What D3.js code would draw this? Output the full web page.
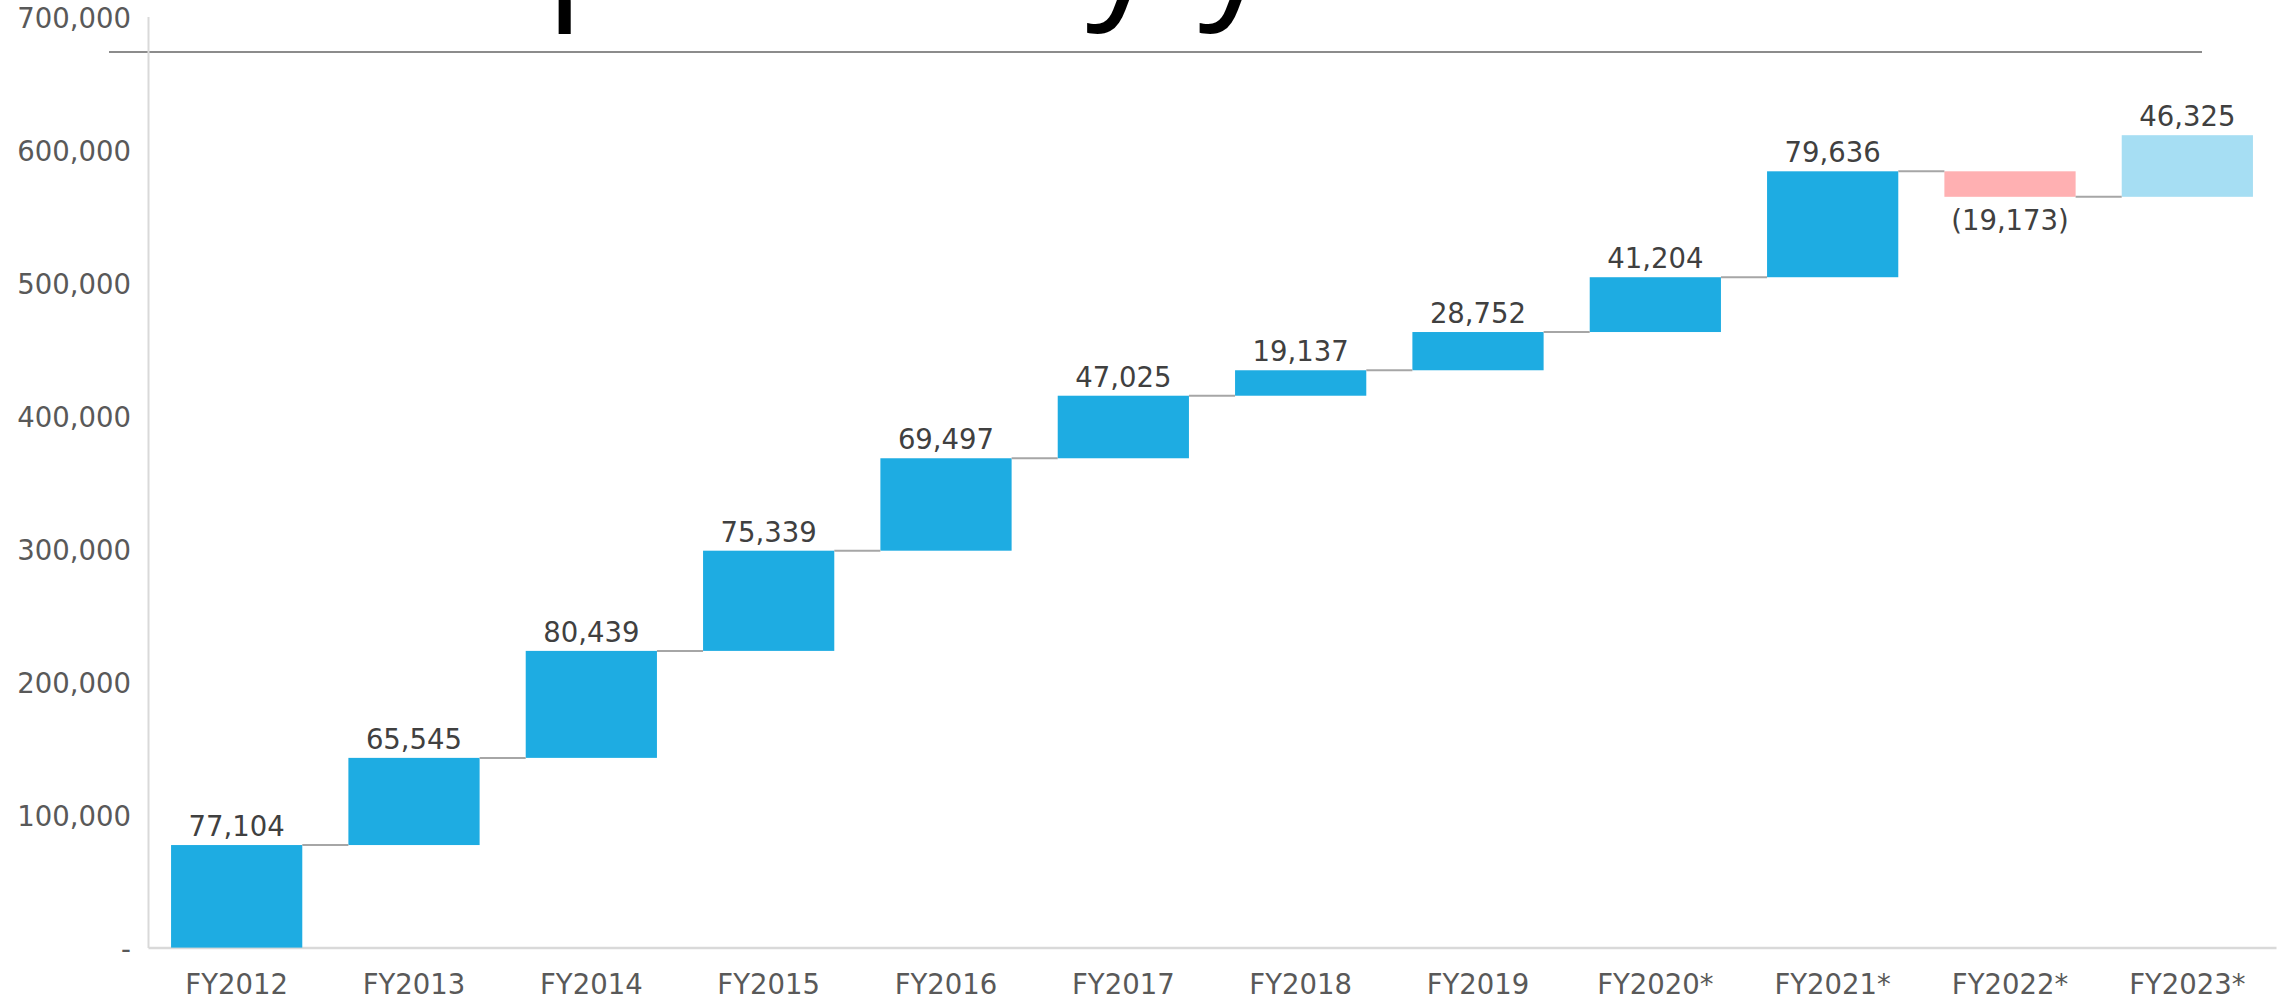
<!DOCTYPE html>
<html>
<head>
<meta charset="utf-8">
<script src="https://cdn.jsdelivr.net/npm/d3@7"></script>
<style>
  body { margin: 0; background: #fff; }
  svg { display: block; }
  .tick text { font-family: "DejaVu Sans", sans-serif; font-size: 27.5px; fill: #595959; }
  .lbl { font-family: "DejaVu Sans", sans-serif; font-size: 27.5px; fill: #404040; }
</style>
</head>
<body>
<svg id="chart" width="2279" height="1000"></svg>
<script>
// year over year change, waterfall
var categories = ["FY2012", "FY2013", "FY2014", "FY2015", "FY2016", "FY2017",
                  "FY2018", "FY2019", "FY2020*", "FY2021*", "FY2022*", "FY2023*"];
var changes = [77104, 65545, 80439, 75339, 69497, 47025, 19137, 28752, 41204, 79636, -19173, 46325];
var yTicks = [0, 100000, 200000, 300000, 400000, 500000, 600000, 700000];
var projected = ["FY2023*"];
var title = "Net deposits by year";

var svg = d3.select("#chart"),
    width = 2279,
    height = 1000;

// running totals
var total = 0;
var steps = changes.map(function(v, i) {
  var s = { cat: categories[i], value: v, start: total };
  total += v;
  s.end = total;
  return s;
});

var x = d3.scaleBand()
    .domain(categories)
    .range([148, 2276])
    .paddingInner(0.26)
    .paddingOuter(0.13);

var y = d3.scaleLinear()
    .domain([0, 700000])
    .range([947.6, 16.6]);

var fmt = d3.format(",");

// title, mostly off the top of the slide
var t = svg.append("text")
    .attr("y", -2)
    .style("font-family", "'Open Sans', sans-serif")
    .style("font-size", "148px")
    .style("fill", "#000")
    .text(title);
var pre = t.node().getSubStringLength(0, title.indexOf("p"));
t.attr("x", 546 - pre);

svg.append("line")
    .attr("x1", 109).attr("x2", 2202)
    .attr("y1", 52).attr("y2", 52)
    .attr("stroke", "#8c8c8c")
    .attr("stroke-width", 2);

// y axis
var yAxis = svg.append("g")
    .attr("transform", "translate(148,0)")
    .call(d3.axisLeft(y)
      .tickValues(yTicks)
      .tickSize(0)
      .tickSizeOuter(0)
      .tickPadding(17)
      .tickFormat(function(d) { return d === 0 ? "-" : fmt(d); }));
yAxis.select(".domain").attr("stroke", "#d9d9d9").attr("stroke-width", 2);
yAxis.selectAll(".tick text").attr("dy", "0.4em");

// x axis
var xAxis = svg.append("g")
    .attr("transform", "translate(0," + y(0) + ")")
    .call(d3.axisBottom(x).tickSize(0).tickSizeOuter(0).tickPadding(27));
xAxis.select(".domain").attr("stroke", "#d9d9d9").attr("stroke-width", 2.5);

// bars
svg.append("g")
  .selectAll("rect")
  .data(steps)
  .enter().append("rect")
    .attr("x", function(d) { return x(d.cat); })
    .attr("width", x.bandwidth())
    .attr("y", function(d) { return y(Math.max(d.start, d.end)); })
    .attr("height", function(d) { return Math.abs(y(d.start) - y(d.end)); })
    .attr("fill", function(d) {
      if (d.value < 0) return "#ffb0b2";
      if (projected.indexOf(d.cat) >= 0) return "#a6def3";
      return "#1eace2";
    });

// connectors
svg.append("g")
  .selectAll("line")
  .data(steps.slice(0, -1))
  .enter().append("line")
    .attr("x1", function(d) { return x(d.cat) + x.bandwidth(); })
    .attr("x2", function(d, i) { return x(categories[i + 1]); })
    .attr("y1", function(d) { return y(d.end); })
    .attr("y2", function(d) { return y(d.end); })
    .attr("stroke", "#a6a6a6")
    .attr("stroke-width", 2);

// value labels
svg.append("g")
  .selectAll("text")
  .data(steps)
  .enter().append("text")
    .attr("class", "lbl")
    .attr("text-anchor", "middle")
    .attr("x", function(d) { return x(d.cat) + x.bandwidth() / 2; })
    .attr("y", function(d) {
      return d.value < 0 ? y(d.end) + 33 : y(d.end) - 9;
    })
    .text(function(d) { return d.value < 0 ? "(" + fmt(-d.value) + ")" : fmt(d.value); });
</script>
</body>
</html>
